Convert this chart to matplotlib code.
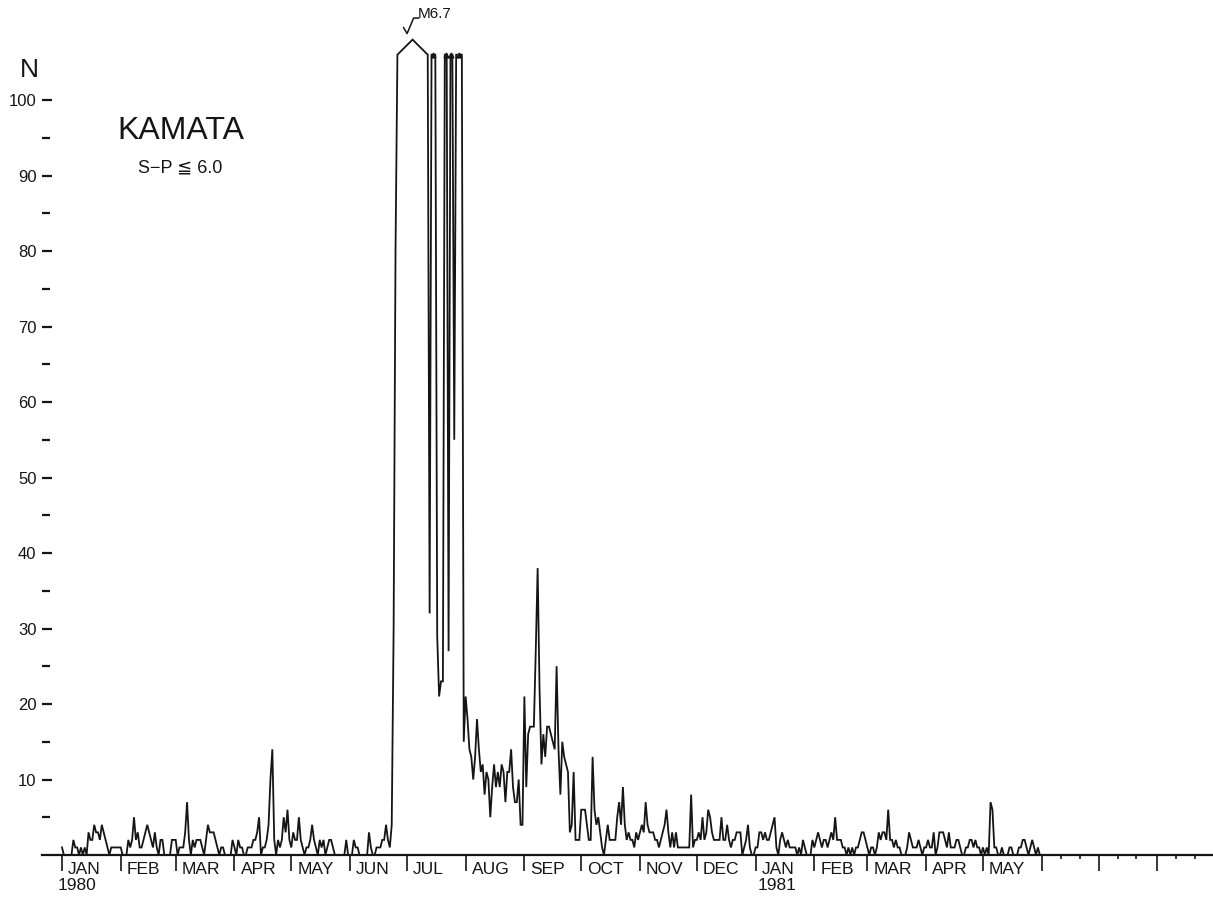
import numpy as np
import pandas as pd
import matplotlib
matplotlib.use("Agg")
import matplotlib.pyplot as plt
from matplotlib.lines import Line2D

plt.rcParams['font.family'] = ['Liberation Sans', 'DejaVu Sans']

# ---------------- data: daily counts (S-P <= 6.0 s), Kamata station -------------
OFF = 150  # off-scale days (count exceeds the top of the chart)

jan80 = [1,0,0,0,0,0,2,1,1,0,1,0,1,0,3,2,2,4,3,3,2,4,3,2,1,0,1,1,1,1,1]
feb80 = [1,0,0,0,2,1,2,5,2,3,1,1,2,3,4,3,2,1,3,1,0,2,2,0,0,0,0,2,2]
mar80 = [2,0,1,1,1,3,7,2,0,2,1,2,2,2,1,0,2,4,3,3,3,2,1,0,1,1,0,0,0,0,2]
apr80 = [1,0,2,1,1,0,0,1,1,1,2,2,3,5,0,1,1,2,4,10,14,2,0,2,1,2,5,3,6,2]
may80 = [1,3,2,2,5,2,1,0,1,1,2,4,2,1,0,2,1,2,0,1,2,2,1,0,0,0,0,0,0,2,0]
jun80 = [0,0,2,1,1,0,0,0,0,0,3,1,0,0,1,1,1,2,2,4,2,1,4,30,80,OFF,OFF,OFF,OFF,OFF]
jul80 = [OFF,OFF,OFF,OFF,OFF,OFF,OFF,OFF,OFF,OFF,OFF,OFF,32,OFF,OFF,OFF,29,21,23,23,
         OFF,OFF,27,OFF,OFF,55,OFF,OFF,OFF,OFF,15]
aug80 = [21,18,14,13,10,13,18,14,11,12,8,11,10,5,9,12,9,11,9,12,11,7,11,11,14,9,7,7,10,4,4]
sep80 = [21,9,16,17,17,17,27,38,22,12,16,13,17,17,16,15,14,25,14,8,15,13,12,11,3,4,11,2,2,2]
oct80 = [6,6,6,4,2,2,13,6,4,5,3,1,0,2,4,2,2,2,2,5,7,4,9,4,2,3,2,2,1,3,2]
nov80 = [3,4,3,7,4,3,3,3,2,2,1,2,3,4,6,3,1,3,1,3,1,1,1,1,1,1,1,8,1,2]
dec80 = [2,3,2,5,2,3,6,5,3,2,2,2,2,5,2,2,4,2,1,2,2,3,3,3,0,1,2,4,1,0,0]
jan81 = [1,1,3,3,2,3,2,2,3,4,5,1,0,2,3,2,1,2,1,1,1,1,0,1,0,2,1,0,0,0,2]
feb81 = [1,2,3,2,1,2,2,1,2,3,2,5,2,2,2,1,1,0,1,0,1,0,1,1,2,3,3,2]
mar81 = [1,0,1,1,0,1,3,2,3,3,2,6,2,2,1,2,1,1,0,0,0,1,3,2,1,1,1,2,1,0,1]
apr81 = [1,2,1,1,3,0,1,3,3,3,2,1,3,1,1,1,2,2,1,0,0,1,1,2,2,1,2,1,1,0]
may81 = [1,0,1,0,7,6,1,1,0,0,1,0,0,0,1,1,0,0,0,1,1,2,2,1,0,1,2,1,0,1,0]

months = [jan80, feb80, mar80, apr80, may80, jun80, jul80, aug80, sep80, oct80,
          nov80, dec80, jan81, feb81, mar81, apr81, may81]
month_names = ["JAN", "FEB", "MAR", "APR", "MAY", "JUN", "JUL", "AUG", "SEP",
               "OCT", "NOV", "DEC", "JAN", "FEB", "MAR", "APR", "MAY"]
year_labels = {0: "1980", 12: "1981"}

yticks_major = list(range(10, 101, 10))
yticks_minor = list(range(5, 100, 10))

# ---------------- build series ----------------
vals = np.array([v for m in months for v in m], dtype=float)
start = pd.Timestamp("1980-01-01")
n = len(vals)
days = np.arange(n)

CLIP = 106.0
HAT = 2.0

over = vals > CLIP
xs, ys, caps = [], [], []
apex = None
i = 0
while i < n:
    if over[i]:
        j = i
        while j + 1 < n and over[j + 1]:
            j += 1
        if j - i + 1 >= 6:
            xs += [days[i], (days[i] + days[j]) / 2, days[j]]
            ys += [CLIP, CLIP + HAT, CLIP]
            apex = ((days[i] + days[j]) / 2, CLIP + HAT)
        else:
            for k in range(i, j + 1):
                xs.append(days[k]); ys.append(CLIP)
            caps.append((days[i] + days[j]) / 2)
        i = j + 1
    else:
        xs.append(days[i]); ys.append(vals[i])
        i += 1

# ---------------- figure ----------------
W, H = 1213, 897
fig = plt.figure(figsize=(W / 100, H / 100), dpi=100)
px_per_day = 1.895
px_per_unit = 7.55
x0_px, base_px = 62, 855
ax_left_px = 42
xmin = -(x0_px - ax_left_px) / px_per_day
xmax = (W - x0_px) / px_per_day
ytop = 112
ax = fig.add_axes([ax_left_px / W, (H - base_px) / H,
                   1 - ax_left_px / W, ytop * px_per_unit / H])
ax.set_xlim(xmin, xmax)
ax.set_ylim(0, ytop)

ink = "#151515"
ax.plot(xs, ys, color=ink, lw=1.3, solid_joinstyle="miter", clip_on=False)
ax.plot(caps, [CLIP] * len(caps), linestyle="none", marker="^", ms=3.5,
        color=ink, clip_on=False)

for s in ["top", "right", "left"]:
    ax.spines[s].set_visible(False)
ax.spines["bottom"].set_linewidth(1.6)
ax.spines["bottom"].set_color(ink)

# y ticks
ax.set_yticks(yticks_major)
ax.set_yticklabels([str(t) for t in yticks_major])
ax.set_yticks(yticks_minor, minor=True)
ax.tick_params(axis="y", which="major", direction="in", length=7.5, width=1.6,
               pad=4, labelsize=12, colors=ink)
ax.tick_params(axis="y", which="minor", direction="in", length=5.5, width=1.6,
               colors=ink)

# x ticks: month starts, and 10-day ticks past the end of data
ms = pd.date_range("1980-01-01", "1981-08-01", freq="MS")
mpos = [(d - start).days for d in ms]
ax.set_xticks(mpos)
ax.set_xticklabels([""] * len(mpos))
minor_dates = [pd.Timestamp(y, m, dd) for (y, m) in [(1981, 6), (1981, 7), (1981, 8)]
               for dd in (11, 21)]
ax.set_xticks([(d - start).days for d in minor_dates], minor=True)
ax.tick_params(axis="x", which="major", direction="out", length=11.5, width=1.2,
               colors=ink)
ax.tick_params(axis="x", which="minor", direction="out", length=3, width=1.2,
               colors=ink)

# month labels
for k, name in enumerate(month_names):
    xp = mpos[k]
    ax.text(xp + 3.2, -14 / px_per_unit, name, ha="left", va="center",
            fontsize=12.5, color=ink, clip_on=False)
ax.text(mpos[0] - 2.2, -30 / px_per_unit, year_labels[0], ha="left", va="center",
        fontsize=12.5, color=ink, clip_on=False)
ax.text(mpos[12] + 1.0, -30 / px_per_unit, year_labels[12], ha="left", va="center",
        fontsize=12.5, color=ink, clip_on=False)

# titles
fig.text(29 / W, 1 - 70 / H, "N", ha="center", va="center", fontsize=19, color=ink)
fig.text(117 / W, 1 - 131 / H, "KAMATA", ha="left", va="center", fontsize=23,
         color=ink)
fig.text(138 / W, 1 - 168 / H, "S\u2212P \u2266 6.0", ha="left", va="center",
         fontsize=13, color=ink, family=["Liberation Sans", "DejaVu Sans"])

# M6.7 annotation above the off-scale hat
if apex is not None:
    ax_px = ax.transData.transform(apex)
    ax_x, ax_y = ax_px
    pts = [(-9, 12), (-5.5, 6), (1, 21.5), (6, 21.5)]
    fx = [(ax_x + dx) / W for dx, dy in pts]
    fy = [(ax_y + dy) / H for dx, dy in pts]
    fig.add_artist(Line2D(fx, fy, transform=fig.transFigure, color=ink, lw=1.1))
    fig.text((ax_x + 5.5) / W, (ax_y + 26) / H, "M6.7", ha="left", va="center",
             fontsize=11, color=ink)

fig.savefig("out.png", dpi=100, facecolor="white")
